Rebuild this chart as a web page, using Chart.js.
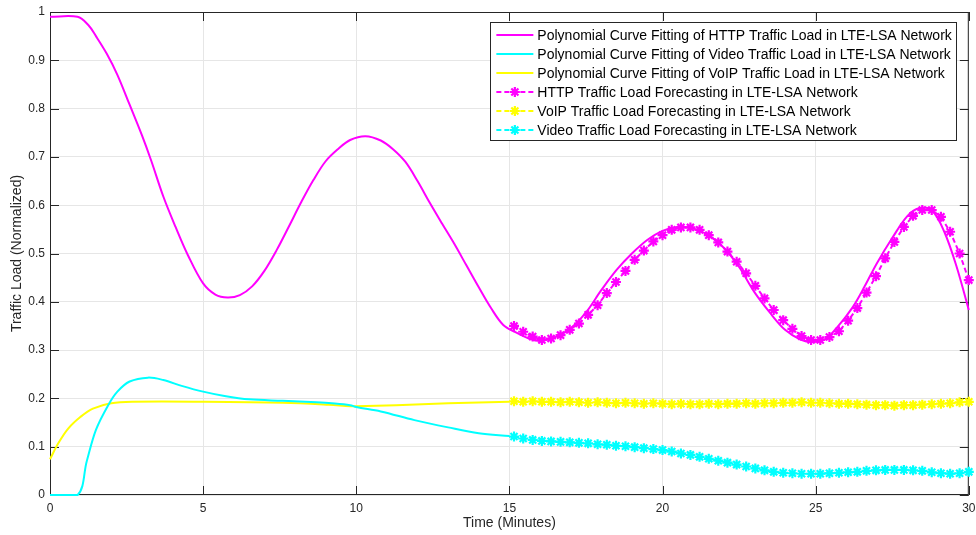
<!DOCTYPE html>
<html lang="en">
<head>
<meta charset="UTF-8">
<title>Traffic Load Forecasting in LTE-LSA Network</title>
<script src="https://cdn.jsdelivr.net/npm/chart.js"></script>
<style>
  body { margin: 0; background: #fff; }
  .chart-box { width: 976px; height: 535px; position: relative; }
</style>
</head>
<body>
<div class="chart-box">
  <canvas id="trafficChart"></canvas>
</div>
<script>
// ======= Data =======
const xTicks = [0, 5, 10, 15, 20, 25, 30];
const yTicks = [0, 0.1, 0.2, 0.3, 0.4, 0.5, 0.6, 0.7, 0.8, 0.9, 1];

// polynomial fits
const httpFitX = [0, 0.9, 1.25, 1.5, 1.85, 2.2, 2.6, 3.0, 3.3, 3.7, 4.1, 4.5, 5.0, 5.4, 5.8, 6.2, 6.6, 7.0, 7.4, 7.8,
  8.2, 8.6, 9.0, 9.4, 9.8, 10.3, 10.8, 11.2, 11.6, 12.0, 12.4, 12.8, 13.2, 13.6, 14.0, 14.4, 14.8, 15.2, 15.6, 16.0,
  16.5, 17.0, 17.5, 18.0, 18.5, 19.0, 19.5, 20.0, 20.5, 21.0, 21.5, 22.0, 22.5, 23.0, 23.5, 24.0, 24.5, 24.9, 25.3,
  25.7, 26.2, 26.6, 27.0, 27.5, 28.0, 28.4, 28.8, 29.2, 29.6, 30.0];
const httpFitY = [0.99, 0.99, 0.973, 0.95, 0.914, 0.87, 0.808, 0.745, 0.693, 0.618, 0.555, 0.497, 0.438, 0.415, 0.409,
  0.414, 0.432, 0.464, 0.507, 0.556, 0.606, 0.652, 0.691, 0.716, 0.735, 0.743, 0.734, 0.716, 0.69, 0.65, 0.605, 0.562,
  0.52, 0.475, 0.43, 0.387, 0.352, 0.337, 0.325, 0.319, 0.327, 0.345, 0.378, 0.424, 0.466, 0.5, 0.528, 0.547, 0.555,
  0.552, 0.538, 0.512, 0.472, 0.42, 0.378, 0.342, 0.322, 0.317, 0.322, 0.347, 0.388, 0.432, 0.48, 0.532, 0.578,
  0.594, 0.589, 0.545, 0.473, 0.383];

const videoFitX = [0, 0.9, 1.2, 1.5, 1.9, 2.2, 2.6, 3.2, 3.7, 4.3, 5.0, 5.7, 6.5, 7.6, 8.7, 9.2, 9.8, 10.0, 10.8, 11.9, 13.0, 14.0, 15.0];
const videoFitY = [0, 0, 0.07, 0.135, 0.186, 0.214, 0.235, 0.243, 0.238, 0.226, 0.214, 0.205, 0.198, 0.195, 0.192,
  0.190, 0.186, 0.182, 0.173, 0.155, 0.140, 0.128, 0.122];

const voipFitX = [0, 0.27, 0.6, 1.0, 1.4, 2.0, 2.7, 5.0, 7.6, 9.1, 9.8, 10.0, 11.3, 13.0, 15.0];
const voipFitY = [0.074, 0.107, 0.138, 0.162, 0.179, 0.190, 0.193, 0.193, 0.191, 0.187, 0.184, 0.184, 0.186, 0.190, 0.193];

// forecasts (same time steps for all three)
const forecastX = [15.15, 15.45, 15.76, 16.06, 16.36, 16.67, 16.97, 17.27, 17.57, 17.88, 18.18, 18.48, 18.79, 19.09,
  19.39, 19.70, 20.00, 20.30, 20.60, 20.91, 21.21, 21.51, 21.82, 22.12, 22.42, 22.73, 23.03, 23.33, 23.63, 23.94,
  24.24, 24.54, 24.85, 25.15, 25.45, 25.76, 26.06, 26.36, 26.66, 26.97, 27.27, 27.57, 27.88, 28.18, 28.48, 28.79,
  29.09, 29.39, 29.70, 30.00];
const httpForecast = [0.350, 0.338, 0.328, 0.321, 0.324, 0.331, 0.342, 0.355, 0.373, 0.393, 0.418, 0.441, 0.464,
  0.487, 0.506, 0.525, 0.538, 0.549, 0.554, 0.554, 0.549, 0.538, 0.523, 0.504, 0.483, 0.459, 0.433, 0.407, 0.383,
  0.362, 0.344, 0.329, 0.321, 0.321, 0.327, 0.339, 0.361, 0.387, 0.419, 0.453, 0.490, 0.524, 0.555, 0.578, 0.590,
  0.590, 0.576, 0.545, 0.500, 0.445];
const voipForecast = [0.194, 0.193, 0.194, 0.193, 0.193, 0.192, 0.193, 0.192, 0.191, 0.192, 0.191, 0.190, 0.191,
  0.190, 0.189, 0.190, 0.189, 0.188, 0.189, 0.188, 0.188, 0.189, 0.188, 0.189, 0.189, 0.190, 0.189, 0.190, 0.190,
  0.191, 0.191, 0.192, 0.191, 0.191, 0.190, 0.189, 0.189, 0.188, 0.187, 0.186, 0.186, 0.185, 0.186, 0.186, 0.187,
  0.188, 0.189, 0.190, 0.192, 0.193];
const videoForecast = [0.121, 0.117, 0.114, 0.112, 0.111, 0.110, 0.109, 0.108, 0.107, 0.105, 0.104, 0.102, 0.101,
  0.099, 0.097, 0.095, 0.093, 0.090, 0.086, 0.083, 0.079, 0.075, 0.071, 0.067, 0.063, 0.059, 0.055, 0.051, 0.048,
  0.046, 0.045, 0.044, 0.044, 0.044, 0.045, 0.046, 0.047, 0.048, 0.050, 0.051, 0.052, 0.052, 0.052, 0.051, 0.050,
  0.047, 0.045, 0.044, 0.045, 0.048];

const labels = [
  'Polynomial Curve Fitting of HTTP Traffic Load in LTE-LSA Network',
  'Polynomial Curve Fitting of Video Traffic Load in LTE-LSA Network',
  'Polynomial Curve Fitting of VoIP Traffic Load in LTE-LSA Network',
  'HTTP Traffic Load Forecasting in LTE-LSA Network',
  'VoIP Traffic Load Forecasting in LTE-LSA Network',
  'Video Traffic Load Forecasting in LTE-LSA Network'
];

// ======= Helpers =======
const MAGENTA = '#ff00ff', CYAN = '#00ffff', YELLOW = '#ffff00';
const FONT = '"Liberation Sans", Arial, Helvetica, sans-serif';

function pares(xs, ys) {
  return xs.map((x, i) => ({ x: x, y: ys[i] }));
}

function fitDataset(label, xs, ys, color) {
  return {
    label: label, data: pares(xs, ys),
    borderColor: color, backgroundColor: color,
    borderWidth: 2, pointRadius: 0, tension: 0.35,
    clip: 4, isForecast: false
  };
}

function forecastDataset(label, ys, color) {
  return {
    label: label, data: pares(forecastX, ys),
    borderColor: color, backgroundColor: color,
    borderWidth: 2, borderDash: [5, 3],
    pointStyle: 'star', pointRadius: 5, pointBorderWidth: 2.2,
    pointBorderColor: color, pointBackgroundColor: color,
    tension: 0, clip: 8, isForecast: true
  };
}

// frame + inward ticks (under the curves), legend box on top
const marco = {
  id: 'marco',
  beforeDatasetsDraw(chart) {
    const { ctx, chartArea: a, scales: { x, y } } = chart;
    ctx.save();
    ctx.strokeStyle = '#262626';
    ctx.lineWidth = 1;
    ctx.strokeRect(a.left + 0.5, a.top + 0.5, a.width - 1, a.height - 1);
    ctx.beginPath();
    xTicks.forEach(v => {
      const px = Math.round(x.getPixelForValue(v)) + 0.5;
      ctx.moveTo(px, a.bottom); ctx.lineTo(px, a.bottom - 9);
      ctx.moveTo(px, a.top); ctx.lineTo(px, a.top + 9);
    });
    yTicks.forEach(v => {
      const py = Math.round(y.getPixelForValue(v)) + 0.5;
      ctx.moveTo(a.left, py); ctx.lineTo(a.left + 9, py);
      ctx.moveTo(a.right, py); ctx.lineTo(a.right - 9, py);
    });
    ctx.stroke();
    ctx.restore();
  },
  afterDraw(chart) {
    const { ctx, chartArea: a } = chart;
    ctx.save();
    ctx.font = '14px ' + FONT;
    const sets = chart.data.datasets;
    const textW = Math.max(...sets.map(d => ctx.measureText(d.label).width));
    const rowH = 19;
    const right = a.right - 12;
    const left = right - (6 + 37 + 4 + textW + 5);
    const top = a.top + 10;
    const bottom = top + 13 + rowH * (sets.length - 1) + 10;
    ctx.fillStyle = '#fff';
    ctx.fillRect(left, top, right - left, bottom - top);
    ctx.strokeStyle = '#262626';
    ctx.lineWidth = 1;
    ctx.strokeRect(Math.round(left) + 0.5, top + 0.5, Math.round(right - left), bottom - top);
    sets.forEach((d, i) => {
      const cy = top + 13 + i * rowH;
      const x0 = left + 6, x1 = x0 + 37, cx = (x0 + x1) / 2;
      ctx.strokeStyle = d.borderColor;
      ctx.lineWidth = 2;
      ctx.setLineDash(d.isForecast ? [5, 3] : []);
      ctx.beginPath(); ctx.moveTo(x0, cy); ctx.lineTo(x1, cy); ctx.stroke();
      ctx.setLineDash([]);
      if (d.isForecast) {
        const r = 5;
        ctx.lineWidth = 2.2;
        ctx.beginPath();
        for (let k = 0; k < 4; k++) {
          const ang = k * Math.PI / 4;
          ctx.moveTo(cx - r * Math.cos(ang), cy - r * Math.sin(ang));
          ctx.lineTo(cx + r * Math.cos(ang), cy + r * Math.sin(ang));
        }
        ctx.stroke();
      }
      ctx.fillStyle = '#000';
      ctx.textBaseline = 'middle';
      ctx.textAlign = 'left';
      ctx.fillText(d.label, x1 + 4, cy + 1);
    });
    ctx.restore();
  }
};

// ======= Chart =======
new Chart(document.getElementById('trafficChart'), {
  type: 'line',
  data: {
    datasets: [
      fitDataset(labels[0], httpFitX, httpFitY, MAGENTA),
      fitDataset(labels[1], videoFitX, videoFitY, CYAN),
      fitDataset(labels[2], voipFitX, voipFitY, YELLOW),
      forecastDataset(labels[3], httpForecast, MAGENTA),
      forecastDataset(labels[4], voipForecast, YELLOW),
      forecastDataset(labels[5], videoForecast, CYAN)
    ]
  },
  options: {
    responsive: true,
    maintainAspectRatio: false,
    animation: false,
    layout: { padding: { top: 12, right: 0, left: 0, bottom: 0 } },
    plugins: { legend: { display: false }, tooltip: { enabled: false } },
    scales: {
      x: {
        type: 'linear', min: 0, max: 30,
        afterFit: s => { s.height = 40; s.paddingLeft = 0; s.paddingRight = 7; },
        afterBuildTicks: s => { s.ticks = xTicks.map(v => ({ value: v })); },
        grid: { color: '#e6e6e6', drawTicks: false },
        border: { display: false },
        ticks: { padding: 6, color: '#262626', font: { family: FONT, size: 12 }, maxRotation: 0 },
        title: { display: true, text: 'Time (Minutes)', color: '#262626',
                 font: { family: FONT, size: 14 }, padding: { top: 0, bottom: 3 } }
      },
      y: {
        min: 0, max: 1,
        afterFit: s => { s.width = 50; s.paddingTop = 0; s.paddingBottom = 0; },
        afterBuildTicks: s => { s.ticks = yTicks.map(v => ({ value: v })); },
        grid: { color: '#e6e6e6', drawTicks: false },
        border: { display: false },
        ticks: { padding: 5, color: '#262626', font: { family: FONT, size: 12 },
                 callback: v => String(Math.round(v * 10) / 10) },
        title: { display: true, text: 'Traffic Load (Normalized)', color: '#262626',
                 font: { family: FONT, size: 14 }, padding: { top: 9, bottom: 0 } }
      }
    }
  },
  plugins: [marco]
});
</script>
</body>
</html>
